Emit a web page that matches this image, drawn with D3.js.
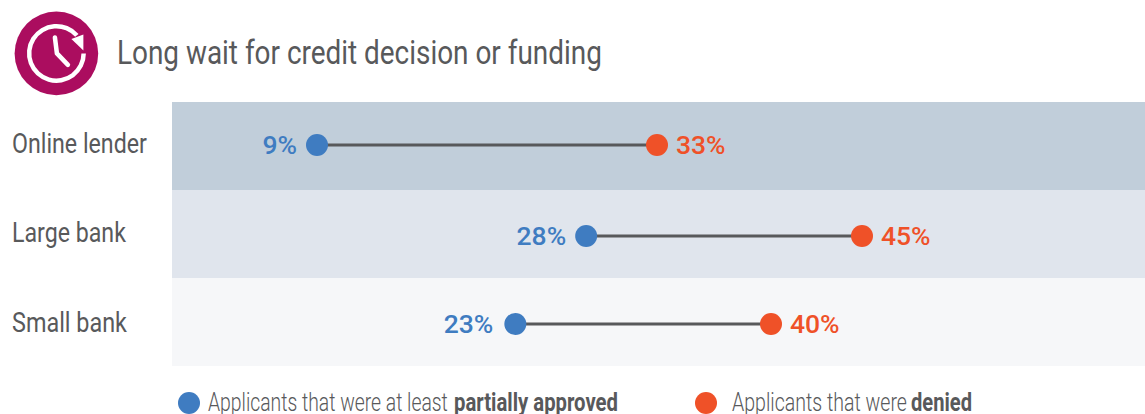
<!DOCTYPE html>
<html><head><meta charset="utf-8">
<script src="https://cdn.jsdelivr.net/npm/d3@7"></script>
<style>html,body{margin:0;padding:0;background:#fff}svg{display:block}text{font-family:Roboto,sans-serif}</style>
</head><body><svg id="c" width="1145" height="414"></svg>
<script>
const categories = ["Online lender", "Large bank", "Small bank"];
const approved = [9, 28, 23];
const denied = [33, 45, 40];
const bandColors = ["#c1ceda", "#e0e5ed", "#f6f7f9"];
const titleText = "Long wait for credit decision or funding";
const blue = "#3f7cc1", red = "#ef5128", grey = "#58595b";

const svg = d3.select("#c");
const x = d3.scaleLinear().domain([9, 33, 40, 45]).range([317, 657, 771, 862]);
const y = d3.scaleBand().domain(categories).range([102, 366]).padding(0);
const ty = d3.scaleOrdinal().domain(categories).range([145, 236, 324]);

// Place condensed text by horizontal scaling so its real box matches its drawn width.
function fit(sel, px, py, len) {
  const natural = sel.node().getComputedTextLength();
  return sel.attr("transform", `translate(${px},${py}) scale(${len / natural},1)`);
}

// icon
const icon = svg.append("g").attr("transform", "translate(56.4,53.4)");
icon.append("circle").attr("r", 41.8).attr("fill", "#ab0d5f");
icon.append("path")
  .attr("d", d3.arc()({innerRadius: 25, outerRadius: 29.5, startAngle: Math.PI * 0.5, endAngle: Math.PI * 2.27}))
  .attr("fill", "#fff");
icon.append("path").attr("d", "M27,-19L27,-3L15,-14.5Z").attr("fill", "#fff");
icon.append("path").attr("d", "M-1.5,-16L0.5,0L11.5,11.5").attr("fill", "none")
  .attr("stroke", "#fff").attr("stroke-width", 4.5).attr("stroke-linecap", "round").attr("stroke-linejoin", "round");

fit(svg.append("text").attr("font-size", 34).attr("fill", grey).text(titleText), 117, 64, 485);

svg.selectAll("rect.band").data(categories).join("rect").attr("class", "band")
  .attr("x", 172).attr("width", 973)
  .attr("y", d => y(d)).attr("height", y.bandwidth())
  .attr("fill", (d, i) => bandColors[i]);

const catW = [135, 114, 115];
const catDy = [8, 6, 8];
const blueGap = [20, 20, 22];
categories.forEach((c, i) => {
  fit(svg.append("text").attr("font-size", 28).attr("fill", grey).text(c), 12, ty(c) + catDy[i], catW[i]);
  svg.append("line").attr("x1", x(approved[i])).attr("x2", x(denied[i]))
    .attr("y1", ty(c)).attr("y2", ty(c)).attr("stroke", grey).attr("stroke-width", 3);
  svg.append("circle").attr("cx", x(approved[i])).attr("cy", ty(c)).attr("r", 11).attr("fill", blue);
  svg.append("circle").attr("cx", x(denied[i])).attr("cy", ty(c)).attr("r", 11).attr("fill", red);
  svg.append("text").attr("x", x(approved[i]) - blueGap[i]).attr("y", ty(c) + 8.5).attr("text-anchor", "end")
    .attr("font-size", 26.5).attr("font-weight", 500).attr("fill", blue).text(approved[i] + "%");
  svg.append("text").attr("x", x(denied[i]) + 19).attr("y", ty(c) + 8.5)
    .attr("font-size", 26.5).attr("font-weight", 500).attr("fill", red).text(denied[i] + "%");
});

// legend
svg.append("circle").attr("cx", 189).attr("cy", 403).attr("r", 11).attr("fill", blue);
svg.append("circle").attr("cx", 706).attr("cy", 403).attr("r", 11).attr("fill", red);
function legendPart(px, weight, str, len) {
  fit(svg.append("text").attr("font-size", 25).attr("font-weight", weight).attr("fill", grey).text(str), px, 410.5, len);
}
legendPart(208, 300, "Applicants that were at least", 240);
legendPart(454, 700, "partially approved", 164);
legendPart(732, 300, "Applicants that were", 175);
legendPart(911, 700, "denied", 61);
</script></body></html>
